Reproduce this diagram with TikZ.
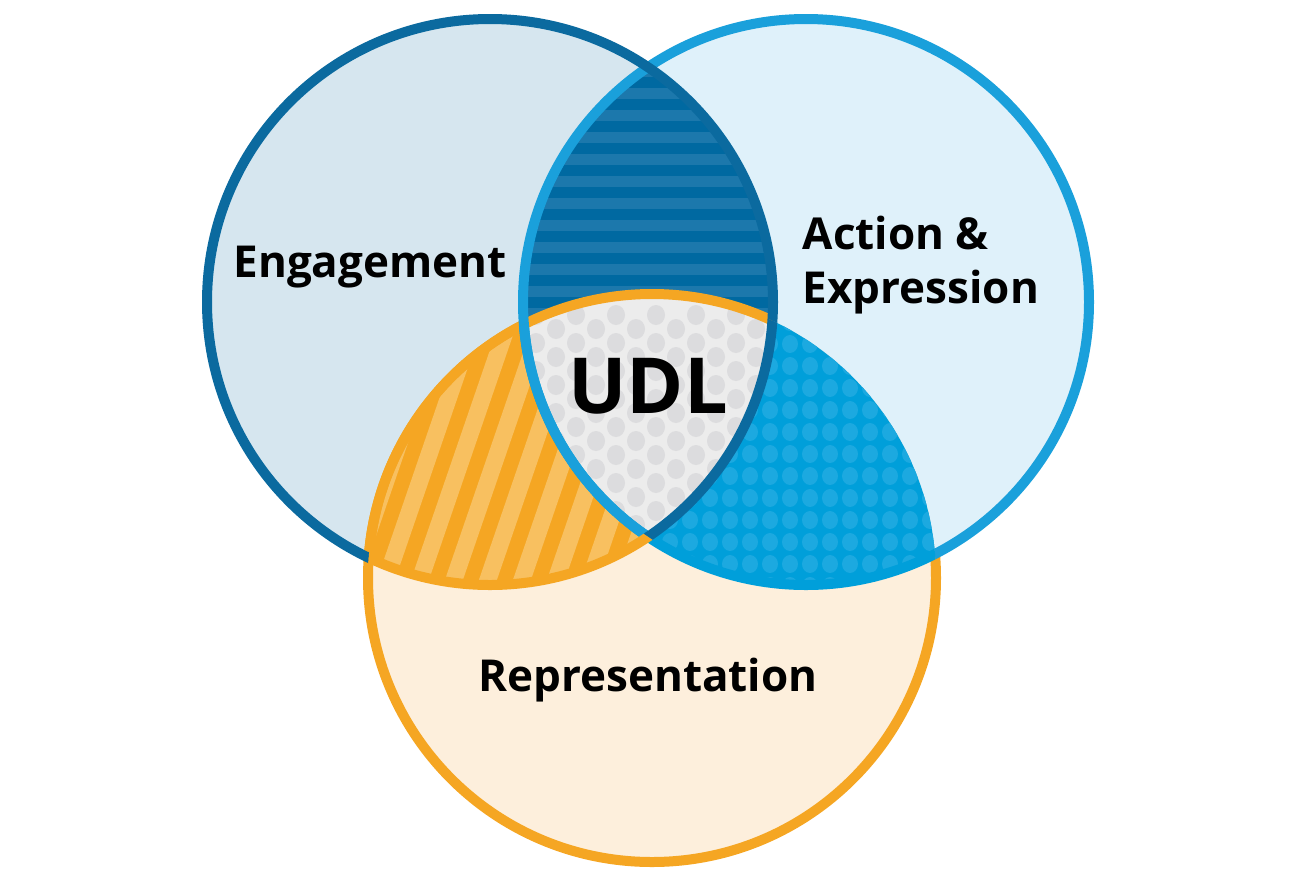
\documentclass[tikz,border=0pt]{standalone}
\usepackage{fontspec}
\setmainfont{Open Sans}
\begin{document}
\definecolor{engfill}{HTML}{D6E6EF}
\definecolor{actfill}{HTML}{DFF1FA}
\definecolor{repfill}{HTML}{FDEFDC}
\definecolor{engline}{HTML}{0B6A9F}
\definecolor{actline}{HTML}{1AA0DB}
\definecolor{repline}{HTML}{F5A623}
\definecolor{lens}{HTML}{0069A1}
\definecolor{lensst}{HTML}{1C78AC}
\definecolor{bluereg}{HTML}{009FDA}
\definecolor{bluedot}{HTML}{1CA9E0}
\definecolor{orst}{HTML}{F8C060}
\definecolor{cen}{HTML}{ECECEC}
\definecolor{cendot}{HTML}{DCDCDE}
\begin{tikzpicture}[x=0.75pt,y=-0.75pt,
  lbl/.style={font=\fontsize{33}{40}\selectfont\bfseries, text=black},
  ring/.style={line width=7.5pt}]
\useasboundingbox (0,0) rectangle (1300,890);
\def\E{(490,302) circle (283)}
\def\A{(806,302) circle (283)}
\def\R{(652,578) circle (284)}
% base fills
\fill[engfill] \E;
\fill[actfill] \A;
\fill[repfill] \R;
% Eng & Action lens
\begin{scope}\clip \E; \clip \A;
  \fill[lens] (0,0) rectangle (1300,890);
  \foreach \y in {0,22,...,620} \fill[lensst] (500,\y) rectangle (800,\y+11);
\end{scope}
% Eng & Rep
\begin{scope}\clip \E; \clip \R;
  \fill[repline] (0,0) rectangle (1300,890);
  \foreach \x in {200,234,...,800} \fill[orst] (\x,600) -- (\x+18,600) -- (\x+18+110,280) -- (\x+110,280) -- cycle;
\end{scope}
% Action & Rep
\begin{scope}\clip \A; \clip \R;
  \fill[bluereg] (0,0) rectangle (1300,890);
  \foreach \x in {530,550,...,960} \foreach \y in {300,322,...,600} \fill[bluedot] (\x,\y) ellipse (8 and 9);
\end{scope}
% centre
\begin{scope}\clip \E; \clip \A; \clip \R;
  \fill[cen] (0,0) rectangle (1300,890);
  \foreach \x in {536,576,...,780} \foreach \y in {315,343,...,560} \fill[cendot] (\x,\y) ellipse (9 and 10);
  \foreach \x in {556,596,...,780} \foreach \y in {329,357,...,560} \fill[cendot] (\x,\y) ellipse (9 and 10);
\end{scope}
% Rep outline: outside Action, or inside Eng
\begin{scope}[even odd rule]\clip (-10,-10) rectangle (1310,900) \A;
  \draw[ring,repline] \R;
\end{scope}
\begin{scope}\clip \E; \draw[ring,repline] \R; \end{scope}
% Action outline
\begin{scope}[even odd rule]\clip (-10,-10) rectangle (1310,900) \R;
  \draw[ring,actline] \A;
\end{scope}
\begin{scope}\clip \R; \draw[ring,bluereg] \A; \end{scope}
\begin{scope}\clip \R; \clip \E; \draw[ring,actline] \A; \end{scope}
% Eng outline
\begin{scope}[even odd rule]\clip (-10,-10) rectangle (1310,900) \R;
  \draw[ring,engline] \E;
\end{scope}
\begin{scope}\clip \R; \clip \A; \draw[ring,engline] \E; \end{scope}
\begin{scope}\clip \R;
  \begin{scope}[even odd rule]\clip (-10,-10) rectangle (1310,900) \A;
    \draw[ring,repline] \E;
  \end{scope}
\end{scope}
% labels
\node[lbl] (eng) at (370,267) {Engagement};
\node[lbl, align=left, anchor=west] (act) at (798,265) {Action \&\\Expression};
\node[lbl] (rep) at (648,680) {Representation};
\node[font=\fontsize{58}{60}\selectfont\bfseries] (udl) at (648,386) {UDL};
\end{tikzpicture}
\end{document}
